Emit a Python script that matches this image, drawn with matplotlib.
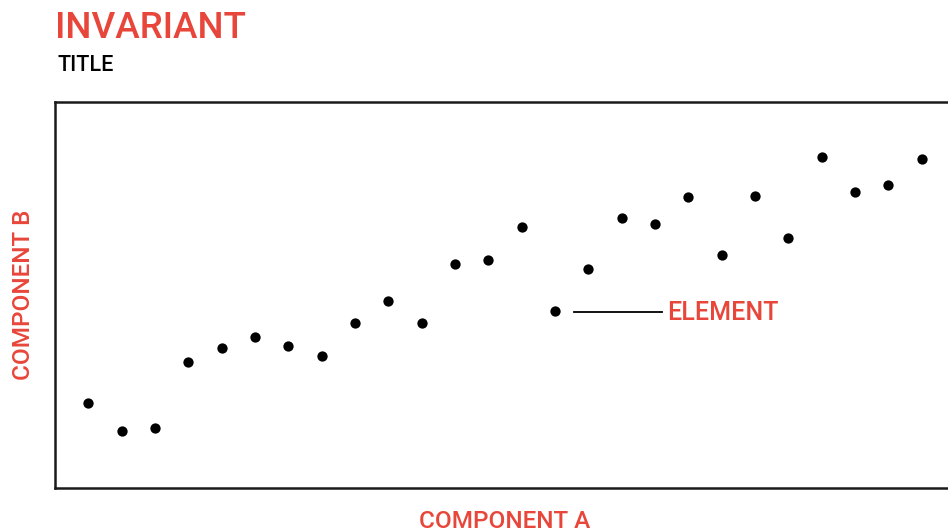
import matplotlib
matplotlib.use("Agg")
import matplotlib.pyplot as plt

x_vals = list(range(1, 27))
y_vals = [22.0, 14.8, 15.5, 32.6, 36.3, 39.1, 36.8, 34.2, 42.7, 48.4, 42.7, 58.0, 59.1,
          67.6, 45.9, 56.7, 69.9, 68.4, 75.4, 60.4, 75.6, 64.8, 85.8, 76.7, 78.5, 85.2]
highlight_index = 14
highlight_label = "ELEMENT"
title_main = "INVARIANT"
title_sub = "TITLE"
x_label = "COMPONENT A"
y_label = "COMPONENT B"

RED = "#E8463A"
FONT = ["Roboto", "DejaVu Sans"]
plt.rcParams['font.family'] = FONT

W, H = 948, 532
fig = plt.figure(figsize=(W / 100, H / 100), dpi=100)
ax_left, ax_right, ax_top, ax_bottom = 55, 955, 102, 488
ax = fig.add_axes([ax_left / W, 1 - ax_bottom / H, (ax_right - ax_left) / W, (ax_bottom - ax_top) / H])
ax.scatter(x_vals, y_vals, s=55, color="black", zorder=3, linewidths=0)
ax.set_xlim(0, 27)
ax.set_ylim(0, 100)
ax.set_xticks([])
ax.set_yticks([])
for sp in ax.spines.values():
    sp.set_linewidth(1.8)
    sp.set_color("#1a1a1a")

hx, hy = x_vals[highlight_index], y_vals[highlight_index]
ax.plot([hx + 0.57, hx + 3.2], [hy - 0.2, hy - 0.2], color="black", lw=1.3)
ax.text(hx + 3.37, hy - 0.5, highlight_label, color=RED, fontsize=18, fontweight="medium",
        va="center", ha="left")

fig.text(55 / W, 1 - 38 / H, title_main, color=RED, fontsize=26.5, fontweight="medium", ha="left", va="baseline")
fig.text(57 / W, 1 - 71 / H, title_sub, color="black", fontsize=15.5, fontweight="medium", ha="left", va="baseline")
fig.text(505 / W, 1 - 528 / H, x_label, color=RED, fontsize=17.5, fontweight="medium", ha="center", va="baseline")
fig.text(35 / W, 1 - 295 / H, y_label, color=RED, fontsize=17.5, fontweight="medium", ha="right", va="center", rotation=90)

fig.savefig("out.png", dpi=100)
